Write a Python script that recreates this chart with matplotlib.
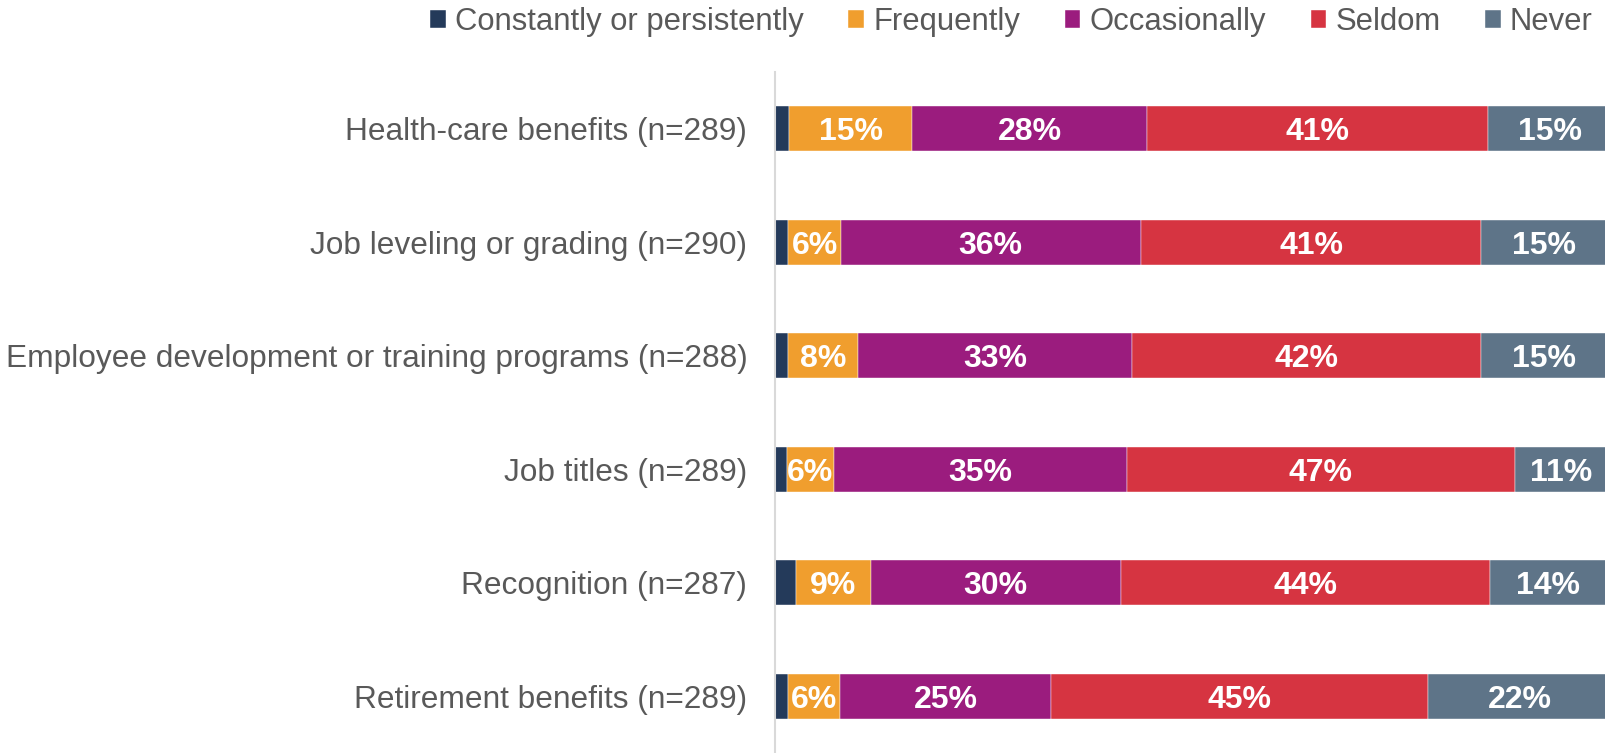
import numpy as np
import matplotlib
matplotlib.use("Agg")
import matplotlib.pyplot as plt

plt.rcParams['font.family'] = ['Liberation Sans', 'DejaVu Sans']

# categories, top to bottom
categories = ["Health-care benefits (n=289)",
              "Job leveling or grading (n=290)",
              "Employee development or training programs (n=288)",
              "Job titles (n=289)",
              "Recognition (n=287)",
              "Retirement benefits (n=289)"]

series = ["Constantly or persistently", "Frequently", "Occasionally", "Seldom", "Never"]
constantly = [1.7, 1.6, 1.6, 1.4, 2.5, 1.5]
frequently = [14.8, 6.3, 8.4, 5.7, 9.0, 6.3]
occasionally = [28.3, 36.1, 33.0, 35.2, 30.1, 25.4]
seldom = [41.0, 41.0, 42.0, 46.8, 44.4, 45.4]
never = [15.0, 15.0, 15.0, 11.0, 14.0, 22.0]

colors = ["#243a5a", "#f09e2e", "#9b1c7e", "#d63441", "#5e7488"]

fig = plt.figure(figsize=(16.06, 7.53), dpi=100)
ax = fig.add_axes([0.4826, 0.0, 1 - 0.4826, 0.9044])

y = np.arange(len(categories))
left = np.zeros(len(categories))
data = [constantly, frequently, occasionally, seldom, never]
for i, (name, vals) in enumerate(zip(series, data)):
    vals = np.array(vals)
    ax.barh(y, vals, left=left, height=0.4, color=colors[i], label=name,
            edgecolor="white", linewidth=0.3)
    if i > 0:
        for yy, l, v in zip(y, left, vals):
            ax.text(l + v / 2, yy, f"{round(v)}%", ha="center", va="center_baseline",
                    color="white", fontsize=23, fontweight="bold")
    left += vals

ax.set_ylim(len(categories) - 0.5, -0.5)
ax.set_xlim(0, 100)
ax.set_yticks(y)
ax.set_yticklabels(categories, fontsize=22.8, color="#595959")
ax.tick_params(axis="y", length=0, pad=20)
ax.set_xticks([])
for s in ["top", "right", "bottom"]:
    ax.spines[s].set_visible(False)
ax.spines["left"].set_color("#d9d9d9")
ax.spines["left"].set_linewidth(1.5)

fig.legend(loc="upper left", bbox_to_anchor=(0.2506, 1.028), ncol=5, frameon=False,
           fontsize=22.3, labelcolor="#595959", handlelength=0.5, handleheight=0.5,
           handletextpad=0.3, columnspacing=1.44)

fig.savefig("out.png", dpi=100)
